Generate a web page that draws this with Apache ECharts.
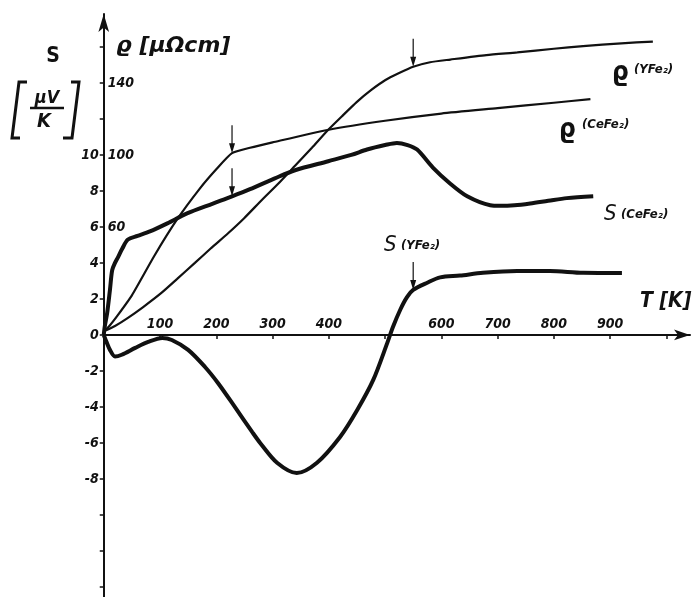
<!DOCTYPE html>
<html>
<head>
<meta charset="utf-8">
<script src="https://cdn.jsdelivr.net/npm/echarts@6/dist/echarts.min.js"></script>
<style>
  html, body { margin: 0; padding: 0; background: #fff; }
  #chart { width: 700px; height: 597px; }
</style>
</head>
<body>
<div id="chart"></div>
<script>
// Resistivity of CeFe2 (µΩcm) against temperature (K)
const tRhoCe = [0, 10, 25, 50, 90, 130, 170, 200, 228, 260, 300, 400, 500, 600, 700, 800, 865];
const rhoCe  = [2, 5, 11, 22, 44, 64, 81, 92, 101, 104, 107, 114, 119, 123, 126, 129, 131];

// Resistivity of YFe2 (µΩcm)
const tRhoY = [0, 20, 43, 70, 103, 130, 162, 190, 221, 250, 281, 310, 340, 370, 399, 425, 450, 475, 500, 525, 550, 580, 616, 680, 735, 800, 852, 920, 976];
const rhoY  = [2, 5, 9.5, 15.5, 23.5, 31, 40, 48, 56.5, 65, 75, 84, 94, 104, 114, 122, 129.5, 136, 141.5, 145.5, 149, 151.5, 153, 155.5, 157, 159, 160.5, 162, 163];

// Thermopower of CeFe2 (µV/K)
const tSCe = [0, 2, 6, 11, 15, 20, 25, 33, 43, 60, 82, 113, 148, 194, 228, 260, 304, 340, 399, 440, 468, 500, 521, 540, 557, 585, 616, 646, 687, 704, 730, 758, 790, 823, 870];
const sCe  = [0, 0.5, 1.2, 2.5, 3.6, 4.0, 4.3, 4.8, 5.3, 5.5, 5.75, 6.2, 6.75, 7.3, 7.7, 8.1, 8.7, 9.15, 9.65, 10.0, 10.3, 10.55, 10.67, 10.55, 10.3, 9.3, 8.4, 7.7, 7.2, 7.17, 7.2, 7.3, 7.45, 7.6, 7.7];

// Thermopower of YFe2 (µV/K)
const tSY = [0, 5, 11, 20, 32, 56, 79, 104, 121, 150, 180, 203, 233, 264, 278, 308, 343, 379, 420, 450, 479, 504, 514, 527, 539, 550, 575, 598, 633, 674, 735, 793, 852, 921];
const sY  = [0, -0.4, -0.83, -1.2, -1.1, -0.72, -0.39, -0.17, -0.28, -0.83, -1.78, -2.67, -4.0, -5.4, -6.0, -7.1, -7.67, -7.1, -5.67, -4.2, -2.5, -0.44, 0.44, 1.4, 2.1, 2.5, 2.9, 3.2, 3.3, 3.45, 3.55, 3.55, 3.45, 3.44];

// Magnetic ordering temperatures marked by arrows (K)
const tcCeFe2 = 228;
const tcYFe2 = 550;

// Axis ticks and labels
const tTicks   = [100, 200, 300, 400, 500, 600, 700, 800, 900, 1000];
const tLabels  = [100, 200, 300, 400, 600, 700, 800, 900];
const sTicks   = [-14, -12, -10, -8, -6, -4, -2, 0, 2, 4, 6, 8, 10, 12, 14, 16];
const sLabels  = [-8, -6, -4, -2, 0, 2, 4, 6, 8, 10];
const rhoLabels = [60, 100, 140];

const S_MIN = -14.56, S_MAX = 17.83, RHO_PER_S = 10;
const W = 700, H = 597;
const GRID = { left: 103.75, right: 10, top: 14, bottom: 0 };
// the temperature axis crosses at S = 0: shift it up from the grid's bottom edge
const zeroLift = (H - GRID.top - GRID.bottom) * (0 - S_MIN) / (S_MAX - S_MIN);

const INK = '#111';
const FONT = "'DejaVu Sans Condensed', 'DejaVu Sans', sans-serif";
const WIDE = "'DejaVu Sans', sans-serif";

const pairs = (xs, ys) => xs.map((x, i) => [x, ys[i]]);
const valueAt = (xs, ys, x) => ys[xs.indexOf(x)];

// Small downward arrow: shaft plus filled head, tip at the bottom
const arrowPath = 'path://M2.4,0 H3.6 V18 H6 L3,28 L0,18 H2.4 Z';
function arrowAt(xs, ys, t) {
  return {
    symbol: arrowPath,
    symbolSize: [6, 28],
    symbolOffset: [0, '-50%'],
    itemStyle: { color: INK },
    label: { show: false },
    silent: true,
    data: [{ coord: [t, valueAt(xs, ys, t)] }]
  };
}

const tickFont = { fontFamily: FONT, fontStyle: 'italic', fontWeight: 'bold', fontSize: 14, color: INK };

const chart = echarts.init(document.getElementById('chart'), null, { renderer: 'canvas' });

chart.setOption({
  animation: false,
  backgroundColor: '#fff',
  grid: Object.assign({ containLabel: false }, GRID),
  xAxis: {
    type: 'value', min: 0, max: 1042, position: 'bottom', offset: -zeroLift,
    axisLine: { onZero: false, symbol: ['none', 'arrow'], symbolSize: [8, 16],
                lineStyle: { color: INK, width: 2 } },
    axisTick: { customValues: tTicks, length: 4, lineStyle: { color: INK, width: 1.5 } },
    axisLabel: Object.assign({ customValues: tLabels, inside: true, margin: 4 }, tickFont),
    splitLine: { show: false }
  },
  yAxis: [
    {
      type: 'value', min: S_MIN, max: S_MAX, position: 'left',
      axisLine: { onZero: false, symbol: ['none', 'arrow'], symbolSize: [8, 18],
                  lineStyle: { color: INK, width: 2 } },
      axisTick: { customValues: sTicks, length: 4, lineStyle: { color: INK, width: 1.5 } },
      axisLabel: Object.assign({ customValues: sLabels, margin: 5 }, tickFont),
      splitLine: { show: false }
    },
    {
      type: 'value', min: S_MIN * RHO_PER_S, max: S_MAX * RHO_PER_S, position: 'left', offset: 0,
      axisLine: { show: false },
      axisTick: { show: false },
      axisLabel: Object.assign({ customValues: rhoLabels, inside: true, margin: 4 }, tickFont),
      splitLine: { show: false }
    }
  ],
  series: [
    {
      name: 'ρ(CeFe2)', type: 'line', yAxisIndex: 1, data: pairs(tRhoCe, rhoCe),
      smooth: 0.2, showSymbol: false, lineStyle: { color: INK, width: 2.2 },
      markPoint: arrowAt(tRhoCe, rhoCe, tcCeFe2)
    },
    {
      name: 'ρ(YFe2)', type: 'line', yAxisIndex: 1, data: pairs(tRhoY, rhoY),
      smooth: 0.2, showSymbol: false, lineStyle: { color: INK, width: 2.2 },
      markPoint: arrowAt(tRhoY, rhoY, tcYFe2)
    },
    {
      name: 'S(CeFe2)', type: 'line', yAxisIndex: 0, data: pairs(tSCe, sCe),
      smooth: 0.3, showSymbol: false, lineStyle: { color: INK, width: 4 },
      markPoint: arrowAt(tSCe, sCe, tcCeFe2)
    },
    {
      name: 'S(YFe2)', type: 'line', yAxisIndex: 0, data: pairs(tSY, sY),
      smooth: 0.3, showSymbol: false, lineStyle: { color: INK, width: 4 },
      markPoint: arrowAt(tSY, sY, tcYFe2)
    }
  ],
  graphic: [
    // thermopower axis title: S [µV/K]
    { type: 'text', x: 53, y: 57, style: { text: 'S', fill: INK, font: "bold 21px " + FONT, align: 'center', verticalAlign: 'middle' } },
    { type: 'text', x: 47, y: 98, style: { text: 'μV', fill: INK, font: "italic bold 18px " + FONT, align: 'center', verticalAlign: 'middle' } },
    { type: 'line', shape: { x1: 30, y1: 108, x2: 64, y2: 108 }, style: { stroke: INK, lineWidth: 2.5 } },
    { type: 'text', x: 44, y: 122, style: { text: 'K', fill: INK, font: "italic bold 20px " + FONT, align: 'center', verticalAlign: 'middle' } },
    { type: 'polyline', shape: { points: [[27, 82], [19, 82], [12, 138], [20, 138]] }, style: { stroke: INK, lineWidth: 3, fill: null } },
    { type: 'polyline', shape: { points: [[71, 82], [79, 82], [72, 138], [63, 138]] }, style: { stroke: INK, lineWidth: 3, fill: null } },
    // resistivity axis title
    { type: 'text', x: 116, y: 46, style: { text: 'ϱ [μΩcm]', fill: INK, font: "italic bold 22px " + WIDE, align: 'left', verticalAlign: 'middle' } },
    // temperature axis title
    { type: 'text', x: 640, y: 302, style: { text: 'T [K]', fill: INK, font: "italic bold 21px " + FONT, align: 'left', verticalAlign: 'middle' } },
    // curve names
    { type: 'text', x: 612, y: 73, style: { text: 'ϱ', fill: INK, font: "bold 26px " + FONT, align: 'left', verticalAlign: 'middle' } },
    { type: 'text', x: 634, y: 70, style: { text: '(YFe₂)', fill: INK, font: "italic bold 13px " + FONT, align: 'left', verticalAlign: 'middle' } },
    { type: 'text', x: 559, y: 130, style: { text: 'ϱ', fill: INK, font: "bold 26px " + FONT, align: 'left', verticalAlign: 'middle' } },
    { type: 'text', x: 582, y: 125, style: { text: '(CeFe₂)', fill: INK, font: "italic bold 13px " + FONT, align: 'left', verticalAlign: 'middle' } },
    { type: 'text', x: 604, y: 214, style: { text: 'S', fill: INK, font: "italic 22px " + FONT, align: 'left', verticalAlign: 'middle' } },
    { type: 'text', x: 621, y: 215, style: { text: '(CeFe₂)', fill: INK, font: "italic bold 13px " + FONT, align: 'left', verticalAlign: 'middle' } },
    { type: 'text', x: 384, y: 245, style: { text: 'S', fill: INK, font: "italic 22px " + FONT, align: 'left', verticalAlign: 'middle' } },
    { type: 'text', x: 401, y: 246, style: { text: '(YFe₂)', fill: INK, font: "italic bold 13px " + FONT, align: 'left', verticalAlign: 'middle' } }
  ]
});
</script>
</body>
</html>
